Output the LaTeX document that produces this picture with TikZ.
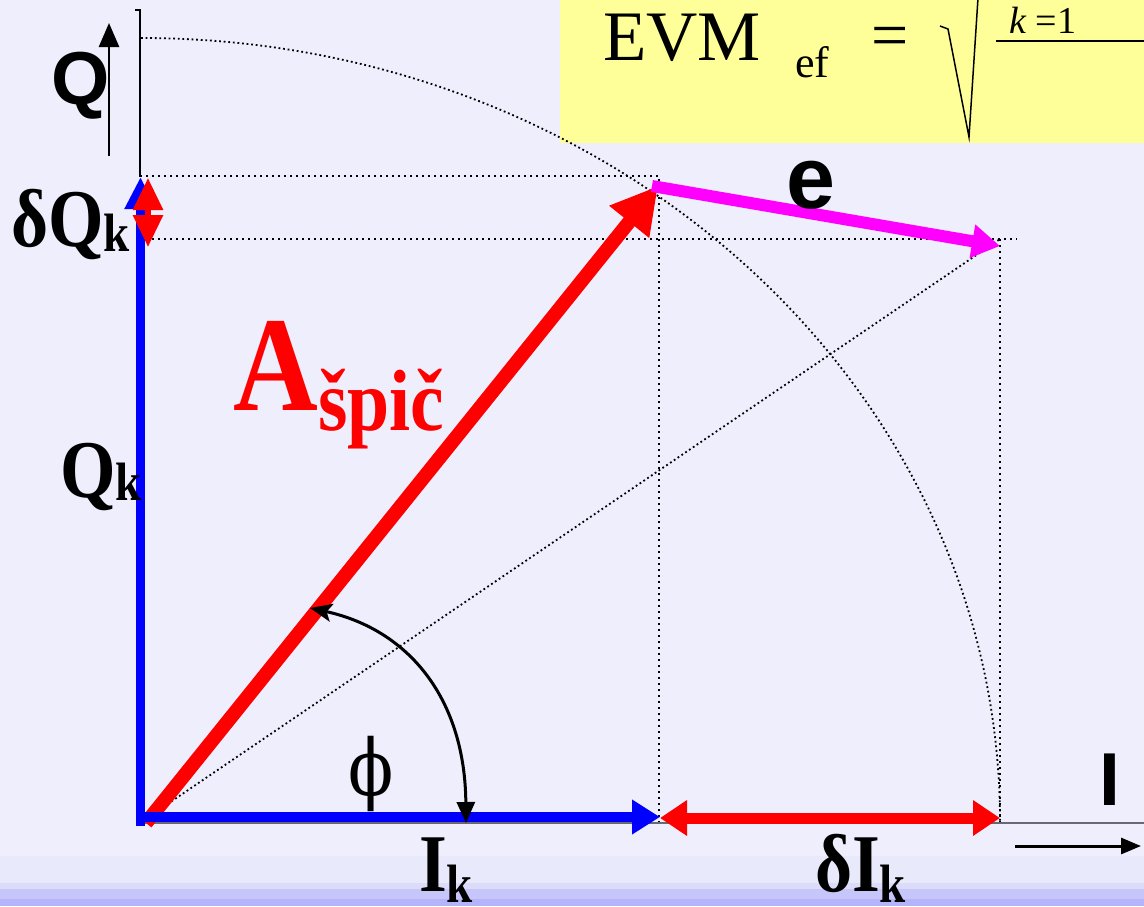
\documentclass[tikz,border=0pt]{standalone}
\usepackage{fontspec}
\setmainfont{Liberation Serif}
\setsansfont{Liberation Sans}
\newfontfamily\phifont{DejaVu Serif}
\usepackage{graphicx}
\usetikzlibrary{arrows.meta, calc}
\definecolor{slidebg}{RGB}{238, 238, 252}
\definecolor{bandpale}{RGB}{233, 233, 252}
\definecolor{bandlight}{RGB}{220, 220, 250}
\definecolor{bandmid}{RGB}{198, 198, 250}
\definecolor{banddark}{RGB}{180, 180, 250}
\definecolor{evmyellow}{RGB}{255, 255, 153}
\definecolor{vecblue}{RGB}{0, 0, 255}
\definecolor{vecred}{RGB}{255, 0, 0}
\definecolor{errmagenta}{RGB}{255, 0, 255}
\definecolor{axisgray}{RGB}{105, 105, 115}
\newcommand{\fsz}[1]{\fontsize{#1}{#1}\selectfont}
\newcommand{\squeeze}[1]{\scalebox{0.87}[1]{#1}}
\newcommand{\lowk}[1]{\raisebox{-#1pt}{\fsz{54}k}}

\begin{document}
\begin{tikzpicture}[x=1pt, y=-1pt,
    every node/.style={inner sep=0pt, anchor=base west},
    grid dots/.style={line width=2.4pt, dash pattern=on 2.4pt off 3.6pt},
    fine dots/.style={line width=1.8pt, dash pattern=on 1.8pt off 2.8pt}]

                \useasboundingbox (0, 0) rectangle (1144, 906);
                \fill[slidebg] (0, 0) rectangle (1144, 906);
                \fill[bandpale] (0, 856) rectangle (1144, 883);
                \fill[bandlight] (0, 883) rectangle (1144, 889);
                \fill[bandmid] (0, 889) rectangle (1144, 899);
                \fill[banddark] (0, 899) rectangle (1144, 906);
                \fill[evmyellow] (560, 0) rectangle (1144, 143);

                \node[font=\fsz{71}] (evm) at (603, 60) {EVM};
                \node[font=\fsz{44}] (evmsub) at (795, 77) {ef};
                \node[font=\fsz{66}, anchor=center] (evmeq) at (890, 42) {=};
                \draw[line width=1.5pt] (940, 26) -- (948, 29) -- (969, 137) -- (978, -2);
                \node[font=\fsz{38}] (sumk) at (1009, 33) {\textit{k}\hspace{9pt}=1};
                \draw[line width=2pt] (996, 41) -- (1144, 41);

                \coordinate (origin) at (141, 822);
                \coordinate (arctop) at (141, 38);
                \coordinate (arcend) at (1000, 822);
                \coordinate (cornA) at (659, 176);
                \coordinate (cornE) at (1000, 239);

                \draw[grid dots] (140, 176) -- (cornA) -- (cornA |- origin);
                \draw[grid dots] (152, 239) -- (1017, 239);
                \draw[grid dots] (cornE) -- (cornE |- origin);
                \draw[fine dots] (origin) -- (cornE);
                \draw[fine dots] (arctop) .. controls (615, 38) and (1000, 389) .. (arcend);

                \draw[axisgray, line width=2.5pt] (origin) ++(0, 1) -- (1144, 823);
                \draw[line width=1.5pt] (135, 10) -- (140, 10) -- (140, 177);
                \draw[line width=2.5pt, -{Triangle[length=24pt, width=20pt]}]
                    (109, 156) -- (109, 23);
                \draw[line width=3pt, -{Triangle[length=20pt, width=16pt]}]
                    (1015, 846) -- (1141, 846);

                \coordinate (atail) at (146, 823);
                \coordinate (atip) at (658, 186);
                \draw[vecred, line width=14pt, -{Triangle[length=46pt, width=48pt]}]
                    (atail) -- (atip);

                \coordinate (qbase) at (140.5, 826);
                \coordinate (qtip) at (140.5, 177);
                \coordinate (ibase) at (136, 817);
                \coordinate (itip) at (660, 817);
                \draw[vecblue, line width=9pt, -{Triangle[length=32pt, width=30pt]}]
                    (qbase) -- (qtip);
                \draw[vecblue, line width=10pt, -{Triangle[length=28pt, width=33pt]}]
                    (ibase) -- (itip);

                \coordinate (etail) at (652, 186);
                \coordinate (etip) at (1000, 246);
                \draw[errmagenta, line width=12pt, -{Triangle[length=28pt, width=32pt]}]
                    (etail) -- (etip);

                \coordinate (dileft) at (660, 818);
                \coordinate (diright) at (1000, 818);
                \draw[vecred, line width=11pt, {Triangle[length=27pt, width=34pt]}-{Triangle[length=27pt, width=34pt]}]
                    (dileft) -- (diright);
                \coordinate (dqtop) at (148, 178);
                \coordinate (dqbot) at (148, 247);
                \draw[vecred, line width=6pt, {Triangle[length=32pt, width=29pt]}-{Triangle[length=32pt, width=29pt]}]
                    (dqtop) -- (dqbot);

                \coordinate (phiA) at (310, 608);
                \coordinate (phiI) at (466, 823);
                \draw[line width=3pt, {Stealth[length=22pt, width=18pt, inset=5pt]}-{Triangle[length=21pt, width=18pt]}]
                    (phiA) .. controls (410, 630) and (465, 700) .. (phiI);

                \node[font=\fsz{75}\sffamily\bfseries] (lblQ) at (51, 104) {Q};
                \node[font=\fsz{75}\sffamily\bfseries] (lblI) at (1099, 805) {I};
                \node[font=\fsz{88}\sffamily\bfseries, anchor=base] (lble) at (811, 208) {e};
                \node[font=\fsz{78}\phifont, anchor=base] (lblphi) at (371, 795) {\scalebox{0.85}[1]{ϕ}};

                \node[font=\fsz{82}\bfseries] (lbldQk) at (11, 246) {\squeeze{δQ\lowk{5}}};
                \node[font=\fsz{82}\bfseries] (lblQk) at (60, 497) {\squeeze{Q\lowk{3}}};
                \node[font=\fsz{82}\bfseries] (lblIk) at (419, 891) {\squeeze{I\lowk{11}}};
                \node[font=\fsz{82}\bfseries] (lbldIk) at (815, 891) {\squeeze{δI\lowk{11}}};

                \node[font=\fsz{135}\bfseries, text=vecred] (lblA) at (233, 410) {\squeeze{A}};
                \node[font=\fsz{87}\bfseries, text=vecred] (lblspic) at (318, 430) {\squeeze{špič}};

            \end{tikzpicture}
\end{document}
